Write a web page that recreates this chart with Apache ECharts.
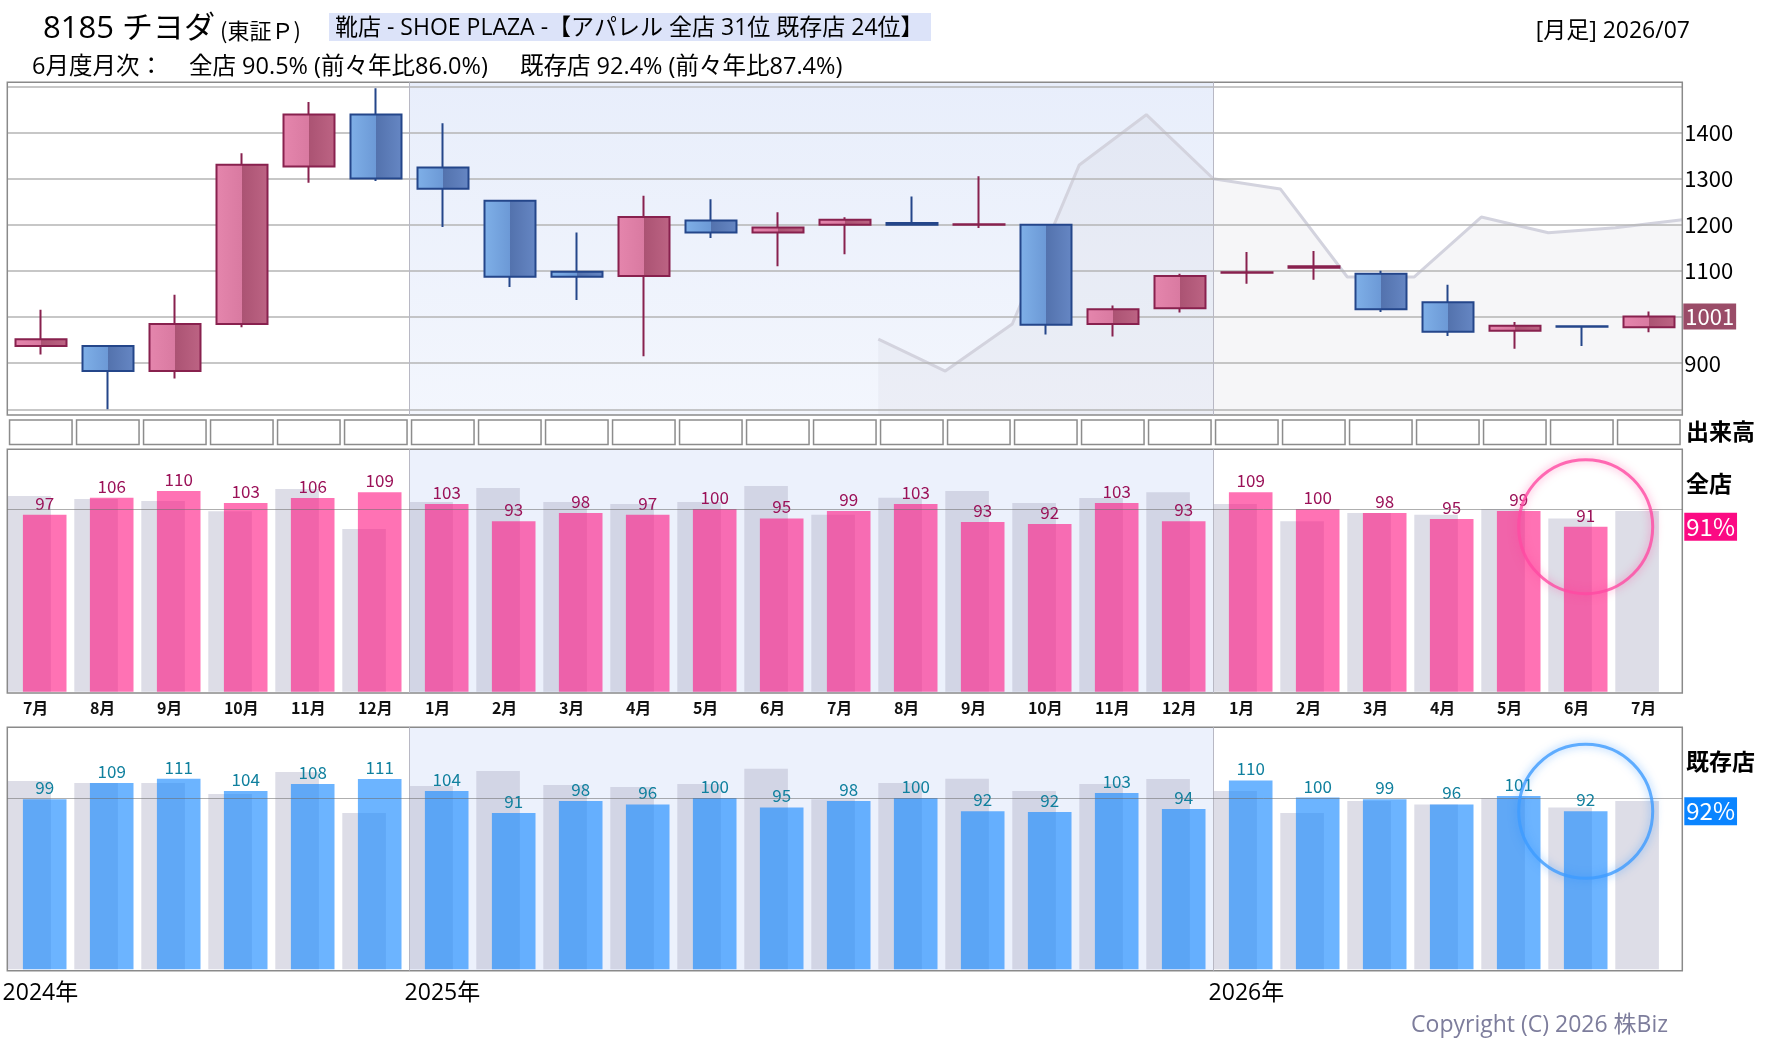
<!DOCTYPE html>
<html><head><meta charset="utf-8">
<script src="https://cdn.jsdelivr.net/npm/echarts@6/dist/echarts.min.js"></script>
<style>html,body{margin:0;padding:0;background:#fff}#c{width:1780px;height:1054px}</style>
</head><body><div id="c"></div>
<script>
// ---------------- DATA ----------------
const months = ['2024-07','2024-08','2024-09','2024-10','2024-11','2024-12',
  '2025-01','2025-02','2025-03','2025-04','2025-05','2025-06','2025-07','2025-08','2025-09','2025-10','2025-11','2025-12',
  '2026-01','2026-02','2026-03','2026-04','2026-05','2026-06','2026-07'];
const candleOpen  = [937, 937, 883, 985, 1326, 1439, 1324, 1252, 1098, 1089, 1209, 1183, 1200, 1204, 1200, 1200, 985, 1019, 1096, 1107, 1094, 1032, 970, 980, 978];
const candleClose = [952, 883, 985, 1330, 1439, 1300, 1278, 1087, 1087, 1217, 1183, 1194, 1211, 1200, 1201, 983, 1017, 1089, 1097, 1110, 1017, 968, 981, 979, 1001];
const candleLow   = [919, 800, 867, 978, 1291, 1295, 1195, 1065, 1037, 915, 1171, 1110, 1136, 1199, 1193, 962, 958, 1010, 1072, 1081, 1011, 959, 931, 937, 967];
const candleHigh  = [1016, 939, 1048, 1355, 1466, 1496, 1420, 1254, 1183, 1263, 1255, 1227, 1216, 1261, 1305, 1200, 1025, 1094, 1141, 1143, 1100, 1070, 989, 980, 1012];
// year-ago close, plotted at the end of each month
const prevYearMonths = ['2025-07','2025-08','2025-09','2025-10','2025-11','2025-12','2026-01','2026-02','2026-03','2026-04','2026-05','2026-06','2026-07'];
const prevYearClose  = [952, 883, 985, 1330, 1439, 1300, 1278, 1087, 1087, 1217, 1183, 1194, 1211];
const priceTickLabels = [900, 1000, 1100, 1200, 1300, 1400];
// 全店 (all stores) YoY %, and previous-year YoY %
const allStoreYoY     = [97.0, 106.4, 110.0, 103.4, 106.2, 109.4, 102.9, 93.4, 98.0, 97.0, 100.2, 95.0, 99.1, 102.9, 93.0, 91.9, 103.4, 93.4, 109.4, 100.2, 98.0, 94.7, 99.1, 90.5, null];
const allStorePrevYoY = [107.3, 105.6, 104.5, 99.0, 111.1, 89.2, 104.0, 111.7, 104.0, 102.9, 104.0, 112.8, 97.0, 106.4, 110.0, 103.4, 106.2, 109.4, 102.9, 93.4, 98.0, 97.0, 100.2, 95.0, 99.1];
// 既存店 (existing stores)
const existingYoY     = [99.4, 109.0, 111.4, 104.3, 108.4, 111.3, 104.3, 91.4, 98.4, 96.4, 100.2, 94.6, 98.4, 100.2, 92.4, 92.0, 103.1, 93.8, 110.4, 100.4, 99.4, 96.4, 101.4, 92.4, null];
const existingPrevYoY = [110.1, 109.0, 109.0, 102.5, 115.4, 91.4, 107.2, 116.0, 107.8, 106.6, 108.4, 117.2, 99.4, 109.0, 111.4, 104.3, 108.4, 111.3, 104.3, 91.4, 98.4, 96.4, 100.2, 94.6, 98.4];
const volumeFrame = [1,1,1,1,1,1,1,1,1,1,1,1,1,1,1,1,1,1,1,1,1,1,1,1,1];
const shadedYear = ['2025-01', '2026-01'];
const yearMarks = ['2024-07', '2025-01', '2026-01'];

// ---------------- LAYOUT / STYLE ----------------
const FONT = '"Noto Sans CJK JP", "Noto Sans", sans-serif';
const FONTL = '"Open Sans", "Noto Sans CJK JP", sans-serif';
const X0 = 7.3, BAND = 67, N = months.length, GW = BAND * N;
const GRAY_SHIFT = -11.7, BAR_SHIFT = 3.9, BARW = 43.6;
const ZEN = {top: 449.3, h: 242.4, bgH: 243.7, max: 132.9, min: -0.71};
const KIZ = {top: 727.3, h: 242.0, bgH: 243.4, max: 141.5, min: -0.82};

function G(left, top, height, extra) {
  return Object.assign({left, top, width: GW, height, containLabel: false, outerBoundsMode: 'none'}, extra || {});
}
const borderGrid = {show: true, borderColor: '#8a8a8a', borderWidth: 1.5, backgroundColor: 'rgba(0,0,0,0)', z: 4};

function hgrad(a, b, c, d) {
  return {type: 'linear', x: 0, y: 0, x2: 1, y2: 0, colorStops: [
    {offset: 0, color: a}, {offset: 0.5, color: b}, {offset: 0.5, color: c}, {offset: 1, color: d}]};
}
const bandMain = {type: 'linear', x: 0, y: 0, x2: 0, y2: 1, colorStops: [{offset: 0, color: '#e8eefb'}, {offset: 1, color: '#f3f6fd'}]};
const bandBar = '#ecf1fc';

const iStart = months.indexOf(shadedYear[0]);
const iEnd = months.indexOf(shadedYear[1]);
const lastIdx = allStoreYoY.length - 1 - [...allStoreYoY].reverse().findIndex(v => v != null);

function catAxis(gridIndex, extra) {
  return Object.assign({type: 'category', gridIndex, data: months, show: false, boundaryGap: true}, extra || {});
}
function valX(gridIndex) { return {type: 'value', gridIndex, min: 0, max: N, show: false}; }
function valY(gridIndex, min, max, extra) { return Object.assign({type: 'value', gridIndex, min, max, show: false, splitLine: {show: false}}, extra || {}); }

function sepLines(color) {
  return [{xAxis: iStart, lineStyle: {color}}, {xAxis: iEnd, lineStyle: {color}}];
}

function panelDecor(gridIdx, values, boxColor) {
  return {
    type: 'line', xAxisIndex: gridIdx, yAxisIndex: gridIdx, data: [], silent: true, z: 0,
    markArea: {silent: true, z: 0, itemStyle: {color: bandBar}, data: [[{xAxis: iStart}, {xAxis: iEnd}]]},
    markLine: {silent: true, symbol: 'none', animation: false,
      label: {show: false},
      lineStyle: {type: 'solid', width: 1},
      data: [
        ...sepLines('#b8b8c4'),
        {yAxis: 100, lineStyle: {color: 'rgba(110,110,110,0.55)'}},
        {yAxis: values[lastIdx], lineStyle: {color: 'rgba(0,0,0,0)'},
          label: {show: true, position: 'end', distance: 2, formatter: () => Math.round(values[lastIdx]) + '%',
            backgroundColor: boxColor, color: '#fff', fontSize: 24, fontFamily: FONT, padding: [3, 2, 1, 2]}}
      ]}
  };
}

function barSeries(gridIdx, data, color, labelColor) {
  return {type: 'bar', xAxisIndex: gridIdx, yAxisIndex: gridIdx, data, barWidth: BARW, z: 2, silent: true,
    itemStyle: {color},
    label: labelColor ? {show: true, position: 'top', distance: 3, color: labelColor, fontSize: 17, fontFamily: FONT,
      formatter: p => p.value == null ? '' : Math.round(p.value)} : {show: false}};
}
function circleSeries(gridIdx, values, color, glow) {
  return {type: 'scatter', xAxisIndex: gridIdx, yAxisIndex: gridIdx, z: 8, silent: true,
    data: [[lastIdx, values[lastIdx]]], symbol: 'circle', symbolSize: 134,
    itemStyle: {color: 'rgba(0,0,0,0)', borderColor: color, borderWidth: 3, shadowBlur: 8, shadowColor: glow}};
}

const txt = (text, x, y, font, fill, align) => ({type: 'text', x, y, silent: true, z: 100,
  style: {text, font, fill: fill || '#000', align: align || 'left', textAlign: align || 'left', verticalAlign: 'middle', textVerticalAlign: 'middle'}});

const option = {
  animation: false,
  backgroundColor: '#fff',
  grid: [
    G(X0, 82.3, 332.7, borderGrid),                 // 0 main bg
    G(X0, 86.3, 323),                               // 1 main price axis
    G(X0, 419.3, 26),                               // 2 volume cells
    G(X0, ZEN.top, ZEN.bgH, borderGrid),            // 3 全店 bg
    G(X0 + GRAY_SHIFT, ZEN.top, ZEN.h),             // 4 全店 prev
    G(X0 + BAR_SHIFT, ZEN.top, ZEN.h),              // 5 全店 current
    G(X0, KIZ.top, KIZ.bgH, borderGrid),            // 6 既存店 bg
    G(X0 + GRAY_SHIFT, KIZ.top, KIZ.h),             // 7 既存店 prev
    G(X0 + BAR_SHIFT, KIZ.top, KIZ.h),              // 8 既存店 current
    G(X0 + 15.6 - BAND / 2, ZEN.top, ZEN.h),        // 9 month labels
    G(X0 - 4.7 - BAND / 2, KIZ.top, KIZ.h)          // 10 year labels
  ],
  xAxis: [
    valX(0), catAxis(1), catAxis(2), valX(3), catAxis(4), catAxis(5), valX(6), catAxis(7), catAxis(8),
    catAxis(9, {show: true, axisLine: {show: false}, axisTick: {show: false},
      axisLabel: {interval: 0, align: 'left', margin: 8, fontSize: 16, fontWeight: 'bold', color: '#111', fontFamily: FONT,
        formatter: v => parseInt(v.slice(5), 10) + '月'}}),
    catAxis(10, {show: true, axisLine: {show: false}, axisTick: {show: false},
      axisLabel: {interval: 0, align: 'left', margin: 13, fontSize: 23, color: '#000', fontFamily: FONTL,
        formatter: v => yearMarks.includes(v) ? v.slice(0, 4) + '年' : ''}})
  ],
  yAxis: [
    valY(0, 787.6, 1509.3),
    {type: 'value', gridIndex: 1, min: 800, max: 1500, interval: 100, position: 'right', z: 2,
      axisLine: {show: false}, axisTick: {show: false},
      splitLine: {show: true, lineStyle: {color: '#b4b4b4', width: 1.5}},
      axisLabel: {margin: 2, fontSize: 22, color: '#000', fontFamily: FONT, padding: [5, 0, 0, 0],
        formatter: v => priceTickLabels.includes(v) ? String(v) : ''}},
    valY(2, 0, 1),
    valY(3, ZEN.min, ZEN.max), valY(4, 0, ZEN.max), valY(5, 0, ZEN.max),
    valY(6, KIZ.min, KIZ.max), valY(7, 0, KIZ.max), valY(8, 0, KIZ.max),
    valY(9, 0, 1), valY(10, 0, 1)
  ],
  series: [
    // main panel: shaded year band + separators
    {type: 'line', xAxisIndex: 0, yAxisIndex: 0, data: [], silent: true, z: 0,
      markArea: {silent: true, z: 0, itemStyle: {color: bandMain}, data: [[{xAxis: iStart}, {xAxis: iEnd}]]},
      markLine: {silent: true, symbol: 'none', label: {show: false}, lineStyle: {type: 'solid', width: 1, color: '#b8b8c4'}, data: sepLines('#b8b8c4')}},
    // year-ago close area
    {type: 'line', xAxisIndex: 0, yAxisIndex: 0, z: 1, silent: true, symbol: 'none',
      data: prevYearClose.map((v, i) => [months.indexOf(prevYearMonths[i]) + 1, v]),
      lineStyle: {color: '#d3d3de', width: 3},
      areaStyle: {color: 'rgba(200,200,215,0.24)', origin: 'start'}},
    // candles
    {type: 'candlestick', xAxisIndex: 1, yAxisIndex: 1, z: 3, barWidth: 52, silent: true,
      data: months.map((m, i) => [candleOpen[i], candleClose[i], candleLow[i], candleHigh[i]]),
      itemStyle: {
        color: hgrad('#e586ad', '#d97aa1', '#ab5373', '#bd6484'),
        color0: hgrad('#7fb0e8', '#6c99d6', '#5372ad', '#6687c4'),
        borderColor: '#88214e', borderColor0: '#24468a', borderWidth: 2
      },
      markLine: {silent: true, symbol: 'none', lineStyle: {color: 'rgba(0,0,0,0)'},
        data: [{yAxis: candleClose[N - 1]}],
        label: {show: true, position: 'end', distance: 1, formatter: String(candleClose[N - 1]),
          backgroundColor: '#9a4c68', color: '#fff', fontSize: 22, fontFamily: FONT, padding: [3, 2, 1, 2]}}},
    // volume frame cells
    {type: 'bar', xAxisIndex: 2, yAxisIndex: 2, data: volumeFrame, barWidth: 64, silent: true,
      itemStyle: {color: '#fff', borderColor: '#8c8c8c', borderWidth: 1.5}},
    // 全店
    panelDecor(3, allStoreYoY, '#fb0a83'),
    barSeries(4, allStorePrevYoY, 'rgba(180,180,202,0.45)', null),
    barSeries(5, allStoreYoY, 'rgba(255,20,130,0.6)', '#9b1158'),
    circleSeries(5, allStoreYoY, '#ff4aa3', 'rgba(255,60,150,0.7)'),
    // 既存店
    panelDecor(6, existingYoY, '#0a84ff'),
    barSeries(7, existingPrevYoY, 'rgba(180,180,202,0.45)', null),
    barSeries(8, existingYoY, 'rgba(22,136,255,0.63)', '#10809e'),
    circleSeries(8, existingYoY, '#3d9bff', 'rgba(40,140,255,0.7)')
  ],
  graphic: [
    {type: 'rect', silent: true, z: 99, shape: {x: 329, y: 13, width: 602, height: 28}, style: {fill: '#dce3f9'}},
    txt('8185 チヨダ', 43, 29, '31px ' + FONTL),
    txt('(東証Ｐ)', 220, 31, '22px ' + FONT),
    txt('靴店 - SHOE PLAZA -【アパレル 全店 31位 既存店 24位】', 335, 28, '23px ' + FONTL),
    txt('[月足] 2026/07', 1690, 31, '23px ' + FONTL, '#000', 'right'),
    txt('6月度月次：', 32, 67, '23.5px ' + FONTL),
    txt('全店 90.5% (前々年比86.0%)', 189, 67, '23.5px ' + FONTL),
    txt('既存店 92.4% (前々年比87.4%)', 520, 67, '23.5px ' + FONTL),
    txt('出来高', 1686, 431, 'bold 23px ' + FONT),
    txt('全店', 1686, 483, 'bold 23px ' + FONT),
    txt('既存店', 1686, 761, 'bold 23px ' + FONT),
    txt('Copyright (C) 2026 株Biz', 1668, 1025, '23px ' + FONTL, '#7d7d9c', 'right')
  ]
};
const chart = echarts.init(document.getElementById('c'), null, {renderer: 'canvas'});
chart.setOption(option);
</script></body></html>
